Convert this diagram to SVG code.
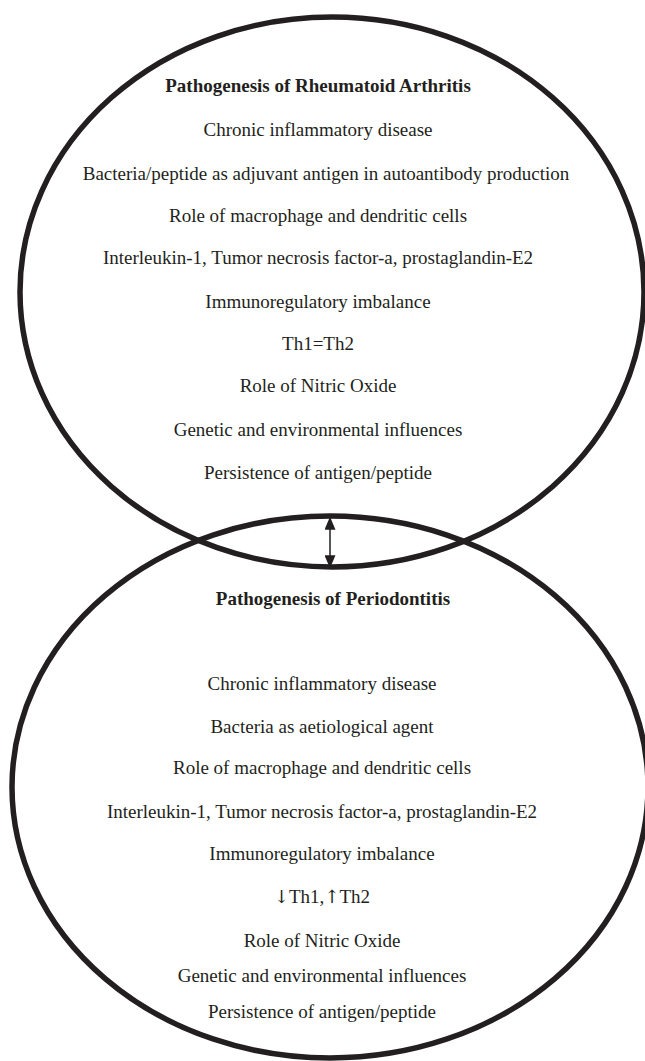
<svg xmlns="http://www.w3.org/2000/svg" width="645" height="1061" viewBox="0 0 645 1061">
<defs>
<style>
.ell{fill:none;stroke:#231f20;stroke-width:5.5}
.t{font-family:"Liberation Serif","Times New Roman",serif;font-size:19px;fill:#231f20;text-anchor:middle}
.h{font-weight:bold}
.ar{font-family:"DejaVu Serif",serif;font-size:18px}
.con{stroke:#231f20;stroke-width:1.5;fill:none}
</style>
<marker id="ah" viewBox="0 0 10 10" refX="9" refY="5" markerWidth="13" markerHeight="11" markerUnits="userSpaceOnUse" orient="auto-start-reverse" preserveAspectRatio="none">
<path d="M0,0 L10,5 L0,10 Z" fill="#231f20"/>
</marker>
</defs>
<rect width="645" height="1061" fill="#ffffff"/>
<g id="ra">
<ellipse class="ell" cx="332" cy="292" rx="312" ry="275"/>
<text class="t h" x="318" y="92">Pathogenesis of Rheumatoid Arthritis</text>
<text class="t" x="318" y="136">Chronic inflammatory disease</text>
<text class="t" x="326" y="180">Bacteria/peptide as adjuvant antigen in autoantibody production</text>
<text class="t" x="318" y="222">Role of macrophage and dendritic cells</text>
<text class="t" x="318" y="264">Interleukin-1, Tumor necrosis factor-a, prostaglandin-E2</text>
<text class="t" x="318" y="308">Immunoregulatory imbalance</text>
<text class="t" x="318" y="350">Th1=Th2</text>
<text class="t" x="318" y="392">Role of Nitric Oxide</text>
<text class="t" x="318" y="436">Genetic and environmental influences</text>
<text class="t" x="318" y="479">Persistence of antigen/peptide</text>
</g>
<g id="pd">
<ellipse class="ell" cx="330" cy="787" rx="318" ry="271"/>
<text class="t h" x="333" y="605">Pathogenesis of Periodontitis</text>
<text class="t" x="322" y="690">Chronic inflammatory disease</text>
<text class="t" x="322" y="733">Bacteria as aetiological agent</text>
<text class="t" x="322" y="774">Role of macrophage and dendritic cells</text>
<text class="t" x="322" y="818">Interleukin-1, Tumor necrosis factor-a, prostaglandin-E2</text>
<text class="t" x="322" y="860">Immunoregulatory imbalance</text>
<text class="t" x="322" y="903"><tspan class="ar">↓</tspan>Th1,<tspan class="ar">↑</tspan>Th2</text>
<text class="t" x="322" y="947">Role of Nitric Oxide</text>
<text class="t" x="322" y="982">Genetic and environmental influences</text>
<text class="t" x="322" y="1018">Persistence of antigen/peptide</text>
</g>
<g id="connectors">
<line class="con" x1="330" y1="518" x2="330" y2="567" marker-start="url(#ah)" marker-end="url(#ah)"/>
</g>
</svg>
